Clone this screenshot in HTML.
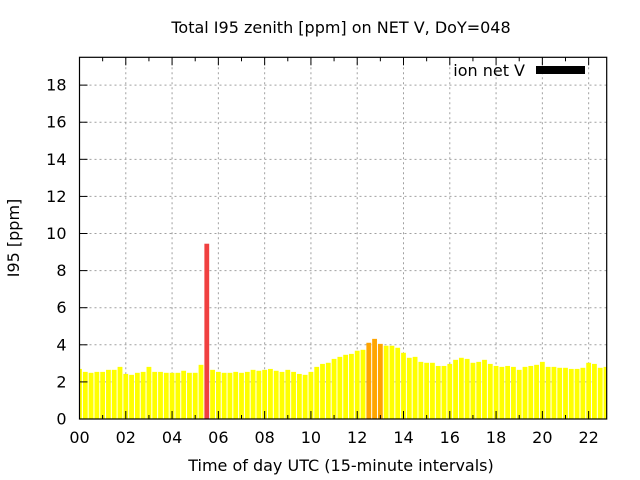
<!DOCTYPE html>
<html><head><meta charset="utf-8"><style>
body{margin:0;background:#fff;}
svg{display:block;font-family:"DejaVu Sans","Liberation Sans",sans-serif;}
</style></head><body>
<svg id="c" width="640" height="480">
<text x="341" y="33" font-size="16" text-anchor="middle">Total I95 zenith [ppm] on NET V, DoY=048</text>
<text x="341" y="471" font-size="16" text-anchor="middle">Time of day UTC (15-minute intervals)</text>
<text transform="translate(19,238) rotate(-90)" font-size="16" text-anchor="middle">I95 [ppm]</text>
<g id="grid"></g><g id="bars"></g><g id="axes"></g>
<text x="525" y="76" font-size="16" text-anchor="end">ion net V</text>
<rect x="536" y="66" width="49" height="8" fill="#000"/>
</svg>
<script>
const values=[2.7,2.54,2.49,2.54,2.54,2.65,2.65,2.81,2.43,2.38,2.49,2.54,2.81,2.54,2.54,2.49,2.49,2.49,2.6,2.49,2.49,2.92,9.45,2.65,2.54,2.49,2.49,2.54,2.49,2.54,2.65,2.6,2.65,2.7,2.6,2.54,2.65,2.54,2.43,2.38,2.54,2.81,2.97,3.03,3.24,3.35,3.46,3.51,3.68,3.73,4.11,4.32,4.05,3.95,3.95,3.84,3.57,3.3,3.35,3.08,3.03,3.03,2.86,2.86,2.97,3.19,3.3,3.24,3.03,3.08,3.19,2.97,2.86,2.81,2.86,2.81,2.65,2.81,2.86,2.92,3.08,2.81,2.81,2.76,2.76,2.7,2.7,2.76,3.03,2.97,2.76,2.81];
const yTicks=[0,2,4,6,8,10,12,14,16,18];
const xTicks=["00","02","04","06","08","10","12","14","16","18","20","22"];
const L=79.5,R=606.7,T=57.3,B=419,XMAX=22.78,YMAX=19.5;
const ns="http://www.w3.org/2000/svg";
const X=v=>L+v/XMAX*(R-L), Y=v=>B-v/YMAX*(B-T);
function mk(t,a,p){const e=document.createElementNS(ns,t);for(const k in a)e.setAttribute(k,a[k]);p.appendChild(e);return e;}
const g=document.getElementById('grid'),b=document.getElementById('bars'),ax=document.getElementById('axes');
yTicks.forEach(v=>{
 if(v>0){const l=mk('line',{x1:L,x2:R,y1:Y(v),y2:Y(v),stroke:'#a0a0a0','stroke-dasharray':'2,3'},g);
 
 }
 const tk=mk('line',{x1:L,x2:L+8,y1:Y(v),y2:Y(v),stroke:'#000'},ax);
 
 
 const t=mk('text',{x:L-13,y:Y(v)+5.5,'font-size':16,'text-anchor':'end'},ax);t.textContent=v;
 
 
});
for(let h=0;h<=22;h++){
 const x=X(h);
 if(h%2==0){
  if(h>0){const l=mk('line',{x1:x,x2:x,y1:T,y2:B,stroke:'#a0a0a0','stroke-dasharray':'2,3'},g);
  
  }
  const t=mk('text',{x:x,y:443,'font-size':16,'text-anchor':'middle'},ax);t.textContent=xTicks[h/2];
  
  
 }
 const len=h%2==0?8:4;
 mk('line',{x1:x,x2:x,y1:B,y2:B-len,stroke:'#000'},ax);
 mk('line',{x1:x,x2:x,y1:T,y2:T+len,stroke:'#000'},ax);
}
values.forEach((v,i)=>{
 const cx=X(i*0.25),w=4.8;
 let x0=Math.max(L,cx-w/2),x1=Math.min(R,cx+w/2);
 if(x1<=x0)return;
 const col=v>=6?'#f04040':(v>=4?'#ffa500':'#ffff00');
 const r=mk('rect',{x:x0,y:Y(v),width:x1-x0,height:B-Y(v),fill:col},b);
 
 
});
const f=mk('rect',{x:L,y:T,width:R-L,height:B-T,fill:'none',stroke:'#000','stroke-width':1.2},ax);


</script>
</body></html>
